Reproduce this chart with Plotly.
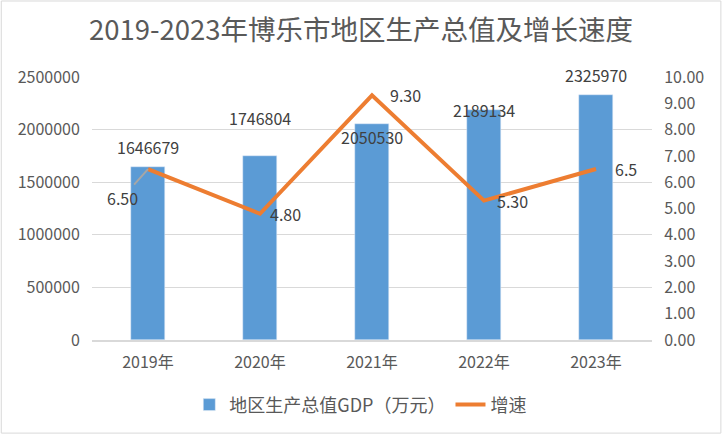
import plotly.graph_objects as go

# --- data ---
years = ['2019年', '2020年', '2021年', '2022年', '2023年']
gdp = [1646679, 1746804, 2050530, 2189134, 2325970]
growth = [6.50, 4.80, 9.30, 5.30, 6.5]
growth_labels = ['6.50', '4.80', '9.30', '5.30', '6.5']

# label offsets (px) copied from the original layout
gdp_label_shift = [20, 38, -13, 0, 20]
growth_label_dx = [-26, 25, 33, 28, 30]
growth_label_dy = [29, 0, 0, 0, 0]

font_cn = 'Noto Sans CJK SC'
grey = '#595959'

fig = go.Figure()

fig.add_trace(go.Bar(
    x=years, y=gdp,
    name='地区生产总值GDP（万元）',
    marker_color='#5B9BD5',
    width=0.31,
))

fig.add_trace(go.Scatter(
    x=years, y=growth,
    name='增速',
    mode='lines',
    line=dict(color='#ED7D31', width=4),
    yaxis='y2',
))

# bar value labels
for i, yr in enumerate(years):
    fig.add_annotation(
        x=yr, y=gdp[i], text=str(gdp[i]),
        showarrow=False, yshift=gdp_label_shift[i],
        font=dict(size=16, color='#404040', family=font_cn),
    )

# growth labels
for i, yr in enumerate(years):
    if growth_label_dy[i]:
        fig.add_annotation(
            x=yr, y=growth[i], yref='y2', text=growth_labels[i],
            showarrow=True, arrowhead=0, arrowwidth=2, arrowcolor='#A6A6A6',
            ax=growth_label_dx[i], ay=growth_label_dy[i],
            font=dict(size=16, color='#404040', family=font_cn),
        )
    else:
        fig.add_annotation(
            x=yr, y=growth[i], yref='y2', text=growth_labels[i],
            showarrow=False, xshift=growth_label_dx[i],
            font=dict(size=16, color='#404040', family=font_cn),
        )

# outer border of the chart
fig.add_shape(type='rect', xref='paper', yref='paper',
              x0=-0.162, x1=1.123, y0=-0.354, y1=1.289,
              line=dict(color='#D9D9D9', width=1))

fig.update_layout(
    width=722, height=434,
    margin=dict(l=92, r=70, t=77, b=94, autoexpand=False),
    paper_bgcolor='white',
    plot_bgcolor='white',
    font=dict(family=font_cn, size=16, color=grey),
    title=dict(
        text='2019-2023年博乐市地区生产总值及增长速度',
        x=0.5, xanchor='center', y=0.93, yanchor='middle',
        font=dict(size=27.5, color=grey, family=font_cn),
    ),
    xaxis=dict(
        showline=True, linecolor='#D9D9D9', linewidth=1.5,
        showgrid=False, ticks='', tickfont=dict(size=16, color=grey),
        ticklabelstandoff=7, automargin=False,
    ),
    yaxis=dict(
        range=[0, 2500000], dtick=500000, tickformat='d',
        showgrid=True, gridcolor='#D9D9D9', zeroline=False,
        ticks='outside', ticklen=8, tickcolor='white',
        tickfont=dict(size=16, color=grey), automargin=False,
    ),
    yaxis2=dict(
        overlaying='y', side='right',
        range=[0, 10], dtick=1, tickformat='.2f',
        showgrid=False, zeroline=False,
        ticks='outside', ticklen=8, tickcolor='white',
        tickfont=dict(size=16, color=grey), automargin=False,
    ),
    legend=dict(
        orientation='h', x=0.48, xanchor='center',
        yref='container', y=0.067, yanchor='middle',
        font=dict(size=18, color=grey),
    ),
    showlegend=True,
    bargap=0,
)

# remove the default page margin so the figure sits at the window's corner
fig.write_html('out.html', config={'displayModeBar': False},
               post_script="document.body.style.margin='0';")
